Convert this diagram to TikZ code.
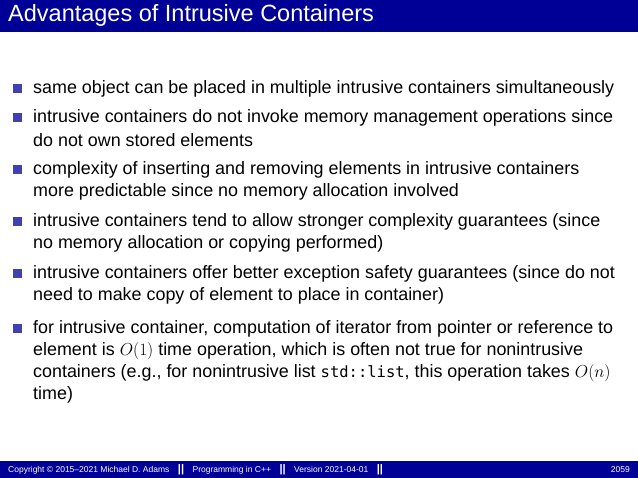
\documentclass[tikz,border=0pt]{standalone}
\usepackage{fontspec}
\setmainfont{Liberation Sans}
\setmonofont{DejaVu Sans Mono}
\definecolor{bar}{RGB}{0,0,150}
\begin{document}
\begin{tikzpicture}[x=1pt,y=-1pt,
  line/.style={anchor=west,inner sep=0pt,font=\fontsize{17.9}{21}\selectfont},
  bul/.style={fill=bar!75!white,minimum size=9pt,inner sep=0pt},
  foot/.style={anchor=west,inner sep=0pt,text=white,font=\fontsize{8.5}{10}\selectfont}]
\useasboundingbox (0,0) rectangle (638,478);
\fill[bar] (0,0) rectangle (638,32);
\node[anchor=west,inner sep=0pt,text=white,font=\fontsize{23.5}{26}\selectfont] (title) at (8,15) {Advantages of Intrusive Containers};
\fill[bar] (0,461) rectangle (638,478);
\node[foot] (f1) at (8,470) {Copyright \textcopyright\ 2015--2021 Michael D. Adams\quad{\fontsize{11}{11}\selectfont\textbf{||}}\quad Programming in C++\quad{\fontsize{11}{11}\selectfont\textbf{||}}\quad Version 2021-04-01\quad{\fontsize{11}{11}\selectfont\textbf{||}}};
\node[foot,anchor=east] (f2) at (630,470) {2059};
\foreach \y in {89,118,170,222,274,329} \node[bul] at (17,\y) {};
\node[line] (l1) at (33,89) {same object can be placed in multiple intrusive containers simultaneously};
\node[line] (l2) at (33,118) {intrusive containers do not invoke memory management operations since};
\node[line] (l3) at (33,140) {do not own stored elements};
\node[line] (l4) at (33,170) {complexity of inserting and removing elements in intrusive containers};
\node[line] (l5) at (33,192) {more predictable since no memory allocation involved};
\node[line] (l6) at (33,222) {intrusive containers tend to allow stronger complexity guarantees (since};
\node[line] (l7) at (33,244) {no memory allocation or copying performed)};
\node[line] (l8) at (33,274) {intrusive containers offer better exception safety guarantees (since do not};
\node[line] (l9) at (33,296) {need to make copy of element to place in container)};
\node[line] (l10) at (33,329) {for intrusive container, computation of iterator from pointer or reference to};
\node[line] (l11) at (33,351) {element is $O(1)$ time operation, which is often not true for nonintrusive};
\node[line] (l12) at (33,373) {containers (e.g., for nonintrusive list {\ttfamily\fontsize{15.5}{18}\selectfont std::list}, this operation takes $O(n)$};
\node[line] (l13) at (33,395) {time)};
\end{tikzpicture}
\end{document}
